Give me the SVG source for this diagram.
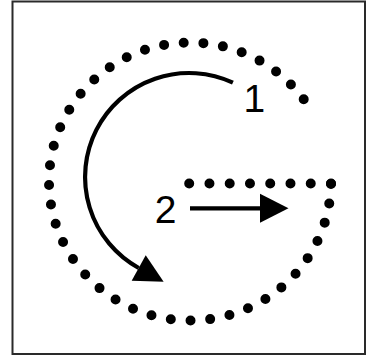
<svg xmlns="http://www.w3.org/2000/svg" width="376" height="356" viewBox="0 0 376 356">
<style>
.frame{fill:#fff;stroke:#2a2a2a;stroke-width:2}
.dots{fill:none;stroke:#000;stroke-width:10;stroke-linecap:round;stroke-dasharray:0 1}
.conn{fill:none;stroke:#000;stroke-width:4.2}
.lbl{font-family:"Liberation Sans",Arial,Helvetica,sans-serif;font-size:39px;fill:#000;text-anchor:middle}
</style>
<defs>
<marker id="head" markerUnits="userSpaceOnUse" markerWidth="30" markerHeight="30" viewBox="0 -15 29 30" refX="0" refY="0" orient="auto">
<path d="M0,-14.5 L28.5,0 L0,14.5 Z" fill="#000"/>
</marker>
</defs>
<rect class="frame" x="12.5" y="1.5" width="352.5" height="352.5"/>
<g id="letter-G">
<path class="dots" pathLength="40.02" d="M303.7,99.3 A141,139 0 1 0 331,183.5"/>
<path class="dots" pathLength="7.01" d="M331,183.5 H189"/>
</g>
<g id="connectors">
<path id="arrow-1" class="conn" d="M232.9,82.7 A104,104 0 0 0 138.7,268" marker-end="url(#head)"/>
<path id="arrow-2" class="conn" d="M190,208.3 H260" marker-end="url(#head)"/>
</g>
<g id="label-1"><text class="lbl" x="254.4" y="112">1</text></g>
<g id="label-2"><text class="lbl" x="165.6" y="223">2</text></g>
</svg>
